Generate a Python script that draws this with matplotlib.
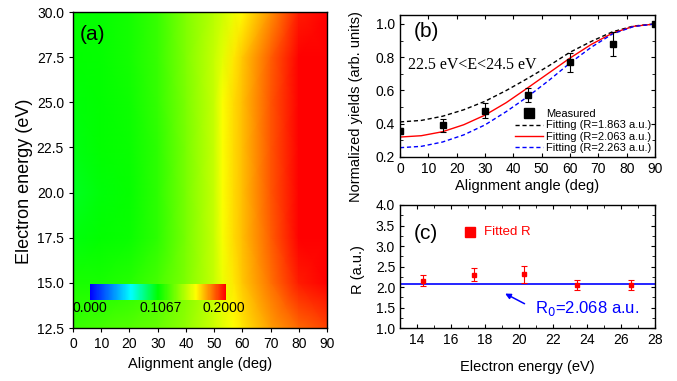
import numpy as np
import matplotlib
matplotlib.use('Agg')
import matplotlib.pyplot as plt
from matplotlib.colors import LinearSegmentedColormap
from matplotlib.ticker import MultipleLocator, FormatStrFormatter

plt.rcParams['font.family'] = ['Liberation Sans', 'DejaVu Sans']
plt.rcParams['axes.linewidth'] = 1.0

# (a) map: yield vs alignment angle and electron energy
map_angles = [0, 10, 20, 30, 40, 50, 53, 57, 60, 70, 80, 90]
map_energies = [12.5, 15.0, 17.5, 20.0, 22.5, 25.0, 27.5, 30.0]
map_values = [
    [0.112, 0.115, 0.118, 0.122, 0.132, 0.145, 0.150, 0.156, 0.160, 0.172, 0.182, 0.188],
    [0.105, 0.105, 0.108, 0.115, 0.128, 0.143, 0.152, 0.160, 0.165, 0.180, 0.195, 0.200],
    [0.098, 0.100, 0.102, 0.110, 0.126, 0.143, 0.154, 0.162, 0.167, 0.183, 0.200, 0.200],
    [0.095, 0.099, 0.101, 0.110, 0.126, 0.143, 0.155, 0.162, 0.167, 0.185, 0.200, 0.200],
    [0.097, 0.100, 0.102, 0.110, 0.126, 0.143, 0.155, 0.162, 0.167, 0.185, 0.200, 0.200],
    [0.099, 0.100, 0.103, 0.111, 0.127, 0.143, 0.155, 0.162, 0.167, 0.185, 0.200, 0.200],
    [0.100, 0.101, 0.104, 0.112, 0.128, 0.143, 0.150, 0.160, 0.165, 0.183, 0.200, 0.200],
    [0.100, 0.101, 0.104, 0.112, 0.128, 0.140, 0.145, 0.152, 0.157, 0.175, 0.195, 0.200],
]
cbar_labels = ['0.000', '0.1067', '0.2000']

# (b) measured yields and fits
meas_angle = [0, 15, 30, 45, 60, 75, 90]
meas_yield = [0.357, 0.391, 0.477, 0.574, 0.769, 0.879, 1.0]
meas_err = [0.02, 0.04, 0.045, 0.043, 0.058, 0.072, 0.01]
fit_angle = [0, 7.5, 15, 22.5, 30, 37.5, 45, 52.5, 60, 67.5, 75, 82.5, 90]
fit_r1863 = [0.411, 0.420, 0.445, 0.484, 0.535, 0.600, 0.672, 0.748, 0.830, 0.895, 0.953, 0.988, 1.0]
fit_r2063 = [0.320, 0.328, 0.352, 0.394, 0.452, 0.527, 0.615, 0.705, 0.795, 0.877, 0.945, 0.986, 1.0]
fit_r2263 = [0.256, 0.264, 0.290, 0.333, 0.393, 0.473, 0.562, 0.660, 0.765, 0.860, 0.940, 0.985, 1.0]

# (c) fitted R vs electron energy
energy_c = [14.34, 17.33, 20.32, 23.42, 26.6]
R_fit = [2.16, 2.30, 2.31, 2.05, 2.05]
R_err = [0.13, 0.16, 0.20, 0.13, 0.13]
R0 = 2.068

cmap = LinearSegmentedColormap.from_list('rb', [(0.0, (0, 0, 1)), (0.3, (0, 1, 1)),
                                                (0.5, (0, 1, 0)), (0.78, (1, 1, 0)),
                                                (1.0, (1, 0, 0))])

fig = plt.figure(figsize=(6.77, 3.81), dpi=100)
W, H = 677., 381.
def box(l, t, r, b):
    return [l / W, 1 - b / H, (r - l) / W, (b - t) / H]

fs_tick = 10
fs_lab = 10.5

# ---------- (a)
axa = fig.add_axes(box(73, 12, 327, 328))
X, Y = np.meshgrid(map_angles, map_energies)
mesh = axa.pcolormesh(X, Y, np.array(map_values), cmap=cmap, vmin=0, vmax=0.2,
                      shading='gouraud', rasterized=True)
axa.set_xlim(0, 90)
axa.set_ylim(12.5, 30)
axa.xaxis.set_major_locator(MultipleLocator(10))
axa.yaxis.set_major_locator(MultipleLocator(2.5))
axa.yaxis.set_major_formatter(FormatStrFormatter('%.1f'))
axa.tick_params(labelsize=fs_tick, direction='out', length=3)
axa.set_xlabel('Alignment angle (deg)', fontsize=fs_lab)
axa.set_ylabel('Electron energy (eV)', fontsize=13)
axa.yaxis.set_label_coords(-0.157, 0.463)
axa.text(0.025, 0.93, '(a)', transform=axa.transAxes, fontsize=15, va='center')

cax = fig.add_axes(box(90, 284, 226, 300))
cb = fig.colorbar(mesh, cax=cax, orientation='horizontal')
cb.outline.set_visible(False)
cax.set_xticks([])
for xl, lab in zip([90, 161, 224], cbar_labels):
    fig.text(xl / W, 1 - 308 / H, lab, ha='center', va='center', fontsize=fs_tick)

# ---------- (b)
axb = fig.add_axes(box(400, 15, 655, 157))
eb = axb.errorbar(meas_angle, meas_yield, yerr=meas_err, fmt='s', color='black', ms=4.5,
                  capsize=2, elinewidth=0.8, capthick=0.8, zorder=4)
l1, = axb.plot(fit_angle, fit_r1863, color='black', ls=(0, (3, 2)), lw=1)
l2, = axb.plot(fit_angle, fit_r2063, color='red', lw=1)
l3, = axb.plot(fit_angle, fit_r2263, color='blue', ls=(0, (3, 2)), lw=1)
axb.set_xlim(0, 90)
axb.set_ylim(0.2, 1.054)
axb.xaxis.set_major_locator(MultipleLocator(10))
axb.yaxis.set_major_locator(MultipleLocator(0.2))
axb.yaxis.set_minor_locator(MultipleLocator(0.1))
axb.yaxis.set_major_formatter(FormatStrFormatter('%.1f'))
axb.tick_params(labelsize=fs_tick, which='both', direction='in', top=True, right=True, length=3)
axb.tick_params(which='minor', length=2)
axb.set_xlabel('Alignment angle (deg)', fontsize=fs_lab, labelpad=2)
axb.set_ylabel('Normalized yields (arb. units)', fontsize=fs_lab)
axb.yaxis.set_label_coords(-0.145, 0.352)
axb.text(0.055, 0.885, '(b)', transform=axb.transAxes, fontsize=15, va='center')
axb.text(2.8, 0.753, '22.5 eV<E<24.5 eV', fontsize=11.5, va='center',
         family=['Liberation Serif', 'DejaVu Serif'])
axb.legend([eb[0], l1, l2, l3],
           ['Measured', 'Fitting (R=1.863 a.u.)', 'Fitting (R=2.063 a.u.)', 'Fitting (R=2.263 a.u.)'],
           loc='lower right', frameon=False, fontsize=8, handlelength=2.5,
           handletextpad=0.3, labelspacing=0.12, borderaxespad=0.15, borderpad=0.2,
           markerscale=1.5)

# ---------- (c)
axc = fig.add_axes(box(400, 205, 655, 328.3))
axc.axhline(R0, color='blue', lw=1.2)
axc.errorbar(energy_c, R_fit, yerr=R_err, fmt='s', color='red', ms=3.5,
             capsize=2, elinewidth=0.8, capthick=0.8, zorder=4)
axc.set_xlim(13, 28)
axc.set_ylim(1.0, 4.0)
axc.xaxis.set_major_locator(MultipleLocator(2))
axc.xaxis.set_minor_locator(MultipleLocator(1))
axc.yaxis.set_major_locator(MultipleLocator(0.5))
axc.yaxis.set_minor_locator(MultipleLocator(0.25))
axc.yaxis.set_major_formatter(FormatStrFormatter('%.1f'))
axc.tick_params(labelsize=fs_tick, which='both', direction='in', top=True, right=True, length=3)
axc.tick_params(which='minor', length=2)
axc.set_xlabel('Electron energy (eV)', fontsize=fs_lab, labelpad=9)
axc.set_ylabel('R (a.u.)', fontsize=fs_lab)
axc.yaxis.set_label_coords(-0.137, 0.473)
axc.text(0.055, 0.77, '(c)', transform=axc.transAxes, fontsize=15, va='center')
axc.plot([17.1], [3.35], 's', color='red', ms=7.5)
axc.text(17.95, 3.35, 'Fitted R', color='red', fontsize=9.5, va='center')
axc.annotate('', xy=(19.04, 1.876), xytext=(20.47, 1.567),
             arrowprops=dict(arrowstyle='-|>', color='blue', lw=1.1, mutation_scale=8))
axc.text(20.96, 1.47, 'R$_0$=2.068 a.u.', color='blue', fontsize=12, va='center')

fig.savefig('out.png', dpi=100)
